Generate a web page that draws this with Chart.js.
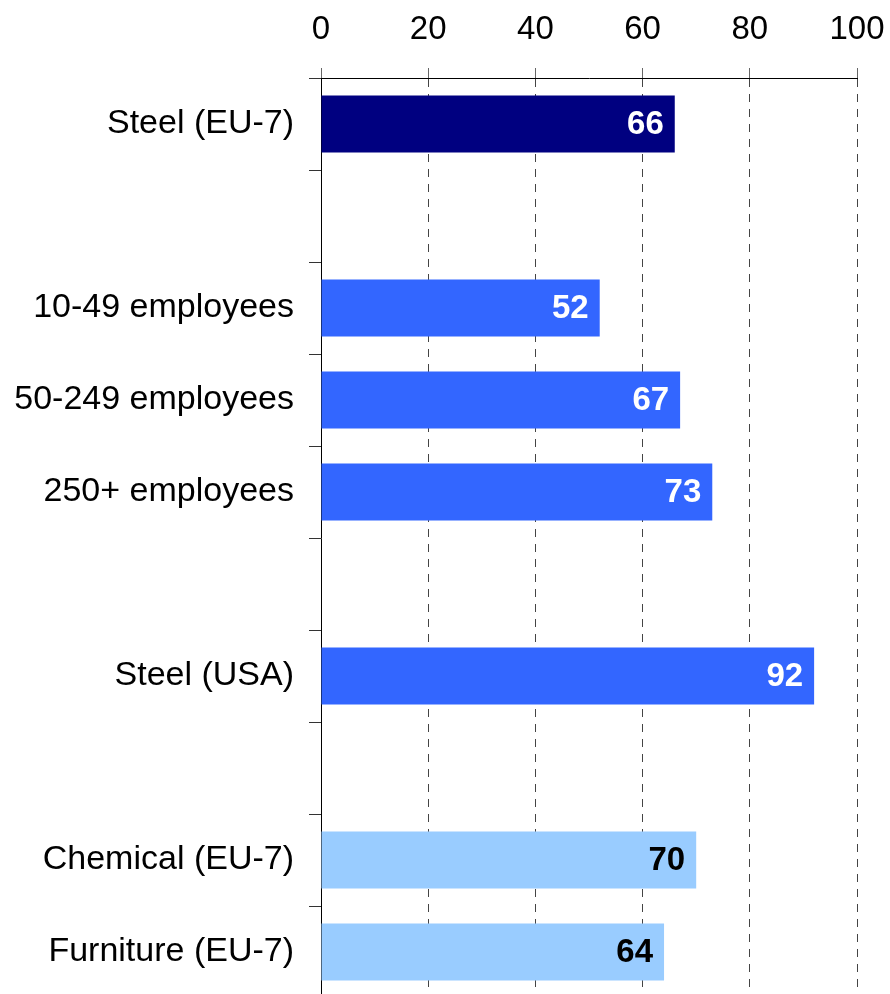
<!DOCTYPE html>
<html>
<head>
<meta charset="utf-8">
<script src="https://cdn.jsdelivr.net/npm/chart.js@4.4.1/dist/chart.umd.min.js"></script>
<style>
  html, body { margin: 0; padding: 0; background: #fff; overflow: hidden; }
  #wrap { width: 890px; height: 1000px; }
</style>
</head>
<body>
<div id="wrap"><canvas id="barChart" width="890" height="1000"></canvas></div>
<script>
// categories (empty strings are the spacer rows between groups)
const categories = ['Steel (EU-7)', '', '10-49 employees', '50-249 employees', '250+ employees', '', 'Steel (USA)', '', 'Chemical (EU-7)', 'Furniture (EU-7)'];
const values = [66, null, 52, 67, 73, null, 92, null, 70, 64];
const xTicks = [0, 20, 40, 60, 80, 100];

const barColors = ['#000080', null, '#3366ff', '#3366ff', '#3366ff', null, '#3366ff', null, '#99ccff', '#99ccff'];
const labelColors = ['#ffffff', null, '#ffffff', '#ffffff', '#ffffff', null, '#ffffff', null, '#000000', '#000000'];

const FONT = "'Liberation Sans', Arial, sans-serif";

// draw value inside the end of each bar
const valueLabels = {
    id: 'valueLabels',
    afterDatasetsDraw(chart) {
        const ctx = chart.ctx;
        const meta = chart.getDatasetMeta(0);
        ctx.save();
        ctx.font = 'bold 33px ' + FONT;
        ctx.textAlign = 'right';
        ctx.textBaseline = 'middle';
        meta.data.forEach(function(bar, i) {
            if (values[i] === null) return;
            ctx.fillStyle = labelColors[i];
            ctx.fillText(String(values[i]), bar.x - 11, bar.y + 1);
        });
        ctx.restore();
    }
};

let ctx = document.getElementById('barChart').getContext('2d');
let barChart = new Chart(ctx, {
    type: 'bar',
    data: {
        labels: categories,
        datasets: [{
            data: values,
            backgroundColor: barColors,
            borderWidth: 0,
            categoryPercentage: 1,
            barPercentage: 0.62
        }]
    },
    options: {
        indexAxis: 'y',
        responsive: false,
        animation: false,
        layout: { padding: { top: 0, right: 33, bottom: 2, left: 0 } },
        plugins: {
            legend: { display: false },
            tooltip: { enabled: false }
        },
        scales: {
            x: {
                position: 'top',
                min: 0,
                max: 100,
                afterBuildTicks: function(scale) {
                    scale.ticks = xTicks.map(v => ({ value: v }));
                },
                afterFit: function(scale) {
                    scale.height = 78;
                    scale.paddingLeft = 0;
                    scale.paddingRight = 0;
                },
                ticks: {
                    color: '#000',
                    font: { family: FONT, size: 33 },
                    padding: 18
                },
                grid: {
                    color: '#444',
                    tickColor: '#666',
                    tickLength: 10,
                    tickBorderDash: []
                },
                border: { display: true, color: '#000', width: 1, dash: [8, 7] }
            },
            y: {
                afterFit: function(scale) {
                    scale.width = 321;
                    scale.paddingTop = 0;
                    scale.paddingBottom = 0;
                },
                ticks: {
                    color: '#000',
                    font: { family: FONT, size: 34 },
                    padding: 15
                },
                grid: {
                    drawOnChartArea: false,
                    tickColor: '#333',
                    tickLength: 12
                },
                border: { display: true, color: '#000', width: 1 }
            }
        }
    },
    plugins: [valueLabels]
});
</script>
</body>
</html>
